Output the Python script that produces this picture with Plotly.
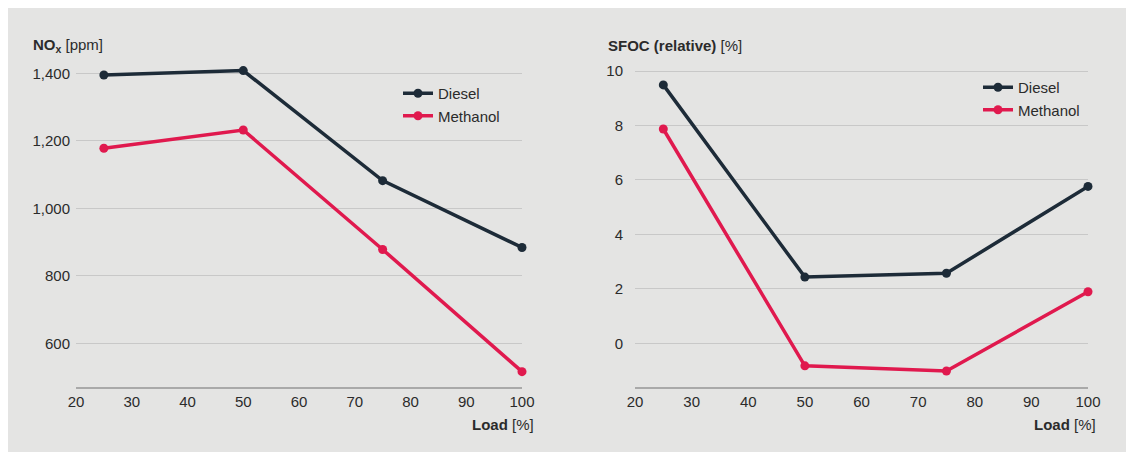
import plotly.graph_objects as go

load = [25, 50, 75, 100]
nox_diesel = [1395, 1408, 1082, 884]
nox_methanol = [1178, 1232, 878, 516]
sfoc_diesel = [9.49, 2.43, 2.57, 5.76]
sfoc_methanol = [7.87, -0.83, -1.02, 1.89]
x_ticks = [20, 30, 40, 50, 60, 70, 80, 90, 100]
nox_ticks = [600, 800, 1000, 1200, 1400]
nox_labels = ["600", "800", "1,000", "1,200", "1,400"]
sfoc_ticks = [0, 2, 4, 6, 8, 10]

DIESEL = "#1d2b38"
METHANOL = "#e0194e"
BG = "#e4e4e3"
TXT = "#2b2b2b"
GRID = "#c8c8c8"
FONT = "Liberation Sans, Arial, Helvetica, sans-serif"

# the page body has an 8px margin; work in page pixels and shift
OFF = 8
W, H = 1134 - OFF, 452 - OFF
PLOT_L, PLOT_R, PLOT_T, PLOT_B = 76, 1088, 60, 387  # page pixels
ML = PLOT_L - OFF
MR = W - (PLOT_R - OFF)
MT = PLOT_T - OFF
MB = H - (PLOT_B - OFF)
PW = W - ML - MR
PH = H - MT - MB


def px(p):
    return (p - PLOT_L) / PW


def py(q):
    return (PLOT_B - q) / PH


fig = go.Figure()

for name, ys, col in [("Diesel", nox_diesel, DIESEL), ("Methanol", nox_methanol, METHANOL)]:
    fig.add_trace(go.Scatter(x=load, y=ys, name=name, mode="lines+markers", cliponaxis=False,
                             line=dict(color=col, width=3.5), marker=dict(color=col, size=9),
                             xaxis="x", yaxis="y", legend="legend"))
for name, ys, col in [("Diesel", sfoc_diesel, DIESEL), ("Methanol", sfoc_methanol, METHANOL)]:
    fig.add_trace(go.Scatter(x=load, y=ys, name=name, mode="lines+markers", cliponaxis=False,
                             line=dict(color=col, width=3.5), marker=dict(color=col, size=9),
                             xaxis="x2", yaxis="y2", legend="legend2"))

xcommon = dict(range=[20, 100], tickvals=x_ticks, showgrid=False, zeroline=False,
               showline=True, linecolor="#a9a9a9", linewidth=1.5,
               tickfont=dict(size=15, color=TXT, family=FONT), ticks="", ticklabelstandoff=0)

fig.update_layout(
    width=W, height=H,
    margin=dict(l=ML, r=MR, t=MT, b=MB),
    paper_bgcolor="white", plot_bgcolor=BG,
    font=dict(family=FONT, color=TXT, size=15),
    xaxis=dict(domain=[0, px(522)], **xcommon),
    xaxis2=dict(domain=[px(635), 1], anchor="y2", **xcommon),
    yaxis=dict(range=[600 + (343.3 - 387) / 0.3375, 1400 + (73.3 - 60) / 0.3375],
               tickvals=nox_ticks, ticktext=nox_labels, showgrid=True, gridcolor=GRID,
               gridwidth=1, zeroline=False, showline=False, ticks="",
               tickfont=dict(size=15, color=TXT, family=FONT), ticklabelstandoff=5),
    yaxis2=dict(range=[(343.3 - 387) / 27.2, 10 + (71 - 60) / 27.2], anchor="x2",
                tickvals=sfoc_ticks, showgrid=True, gridcolor=GRID, gridwidth=1,
                zeroline=False, showline=False, ticks="",
                tickfont=dict(size=15, color=TXT, family=FONT), ticklabelstandoff=11),
    legend=dict(x=px(398), y=py(77), xanchor="left", yanchor="top",
                bgcolor="rgba(0,0,0,0)", font=dict(size=15, color=TXT, family=FONT),
                itemwidth=30, tracegroupgap=0),
    legend2=dict(x=px(978), y=py(71), xanchor="left", yanchor="top",
                 bgcolor="rgba(0,0,0,0)", font=dict(size=15, color=TXT, family=FONT),
                 itemwidth=30, tracegroupgap=0),
    shapes=[dict(type="rect", xref="paper", yref="paper", layer="below",
                 x0=px(8), x1=px(1126), y0=py(460), y1=py(7),
                 fillcolor=BG, line=dict(width=0))],
    annotations=[
        dict(text="<b>NO<sub>x</sub></b> [ppm]", xref="paper", yref="paper",
             x=px(31), y=py(45), xanchor="left", yanchor="middle", showarrow=False,
             font=dict(size=15, color=TXT, family=FONT)),
        dict(text="<b>SFOC (relative)</b> [%]", xref="paper", yref="paper",
             x=px(606), y=py(45), xanchor="left", yanchor="middle", showarrow=False,
             font=dict(size=15, color=TXT, family=FONT)),
        dict(text="<b>Load</b> [%]", xref="paper", yref="paper",
             x=px(536), y=py(424), xanchor="right", yanchor="middle", showarrow=False,
             font=dict(size=15, color=TXT, family=FONT)),
        dict(text="<b>Load</b> [%]", xref="paper", yref="paper",
             x=px(1098), y=py(424), xanchor="right", yanchor="middle", showarrow=False,
             font=dict(size=15, color=TXT, family=FONT)),
    ],
)

fig.write_html("out.html")
